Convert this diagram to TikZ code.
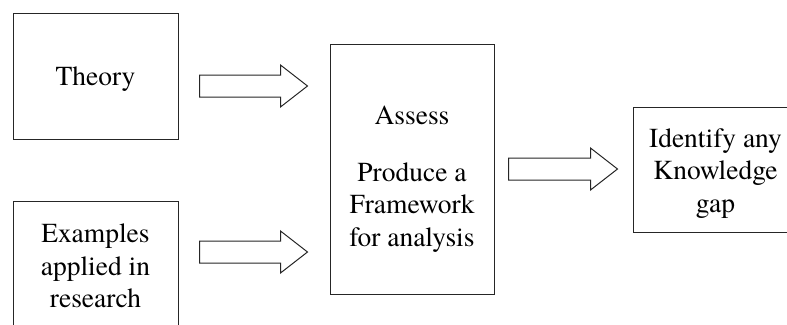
\documentclass[tikz,border=0pt]{standalone}
\usepackage{fontspec}
\newfontfamily\tms{texgyretermes-regular.otf}
\usetikzlibrary{calc}
\tikzset{
  boxnode/.style={draw=black!85, line width=1pt, rectangle, inner sep=0pt},
  txt/.style={inner sep=0pt, align=center, font=\tms\fontsize{27.5}{32.5}\selectfont},
  blk/.style={draw=black!85, line width=1pt, fill=white, line join=miter}
}
\newcommand\blkarrow[2]{%
  \draw[blk] let \p1=(#1), \p2=(#2) in
    (\x1,\y1+11pt) -- (\x2-27pt,\y1+11pt) -- (\x2-27pt,\y1+21pt) -- (\x2,\y1)
    -- (\x2-27pt,\y1-21pt) -- (\x2-27pt,\y1-11pt) -- (\x1,\y1-11pt) -- cycle;}
\begin{document}
\begin{tikzpicture}[x=1pt,y=-1pt]
\useasboundingbox (0,0) rectangle (787,324);
\clip (0,0) rectangle (787,324);
\node[boxnode, minimum width=165pt, minimum height=126pt] (theory) at (95.5,76) {};
\node[txt] (theorytxt) at ($(theory)+(0,3)$) {Theory};
\node[boxnode, minimum width=165pt, minimum height=126pt] (examples) at (95.5,264) {};
\node[txt] (examplestxt) at ($(examples)+(0,2)$) {Examples\\applied in\\research};
\node[boxnode, minimum width=164pt, minimum height=250pt] (assess) at (412,169) {};
\node[txt] (assesstxt) at ($(assess)+(0,10)$) {Assess\\[24pt]Produce a\\Framework\\for analysis};
\node[boxnode, minimum width=165pt, minimum height=125pt] (gap) at (715.5,169.5) {};
\node[txt] (gaptxt) at ($(gap)+(0,4)$) {Identify any\\Knowledge\\gap};
\coordinate (a1s) at ($(theory.east)+(21,10)$);
\coordinate (a1t) at ($(assess.west |- a1s)+(-22,0)$);
\coordinate (a2s) at ($(examples.east)+(21,-12)$);
\coordinate (a2t) at ($(assess.west |- a2s)+(-22,0)$);
\coordinate (a3s) at ($(assess.east)+(14,0)$);
\coordinate (a3t) at ($(gap.west |- a3s)+(-15,0)$);
\blkarrow{a1s}{a1t}
\blkarrow{a2s}{a2t}
\blkarrow{a3s}{a3t}
\end{tikzpicture}
\end{document}
